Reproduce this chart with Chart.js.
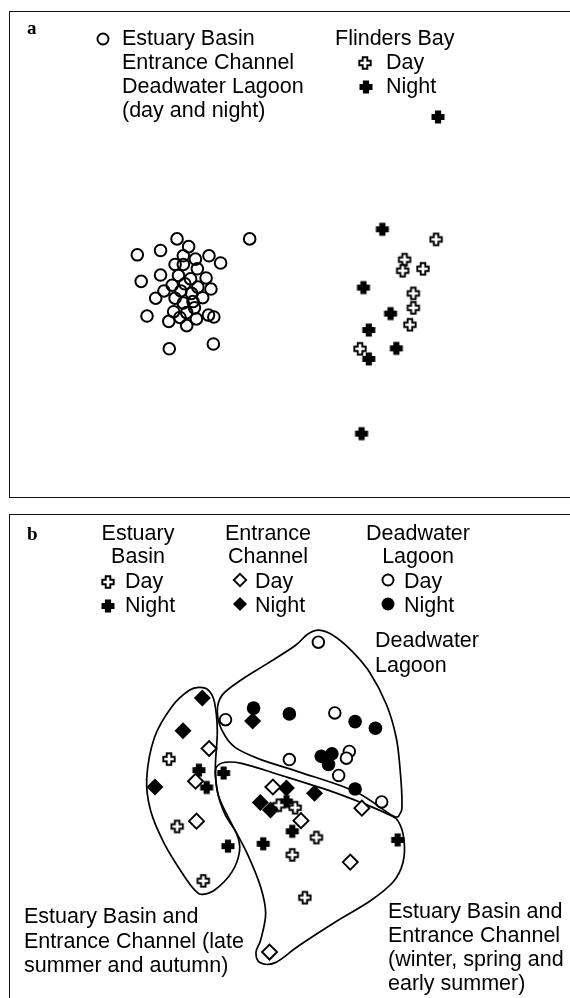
<!DOCTYPE html>
<html>
<head>
<meta charset="utf-8">
<script src="https://cdn.jsdelivr.net/npm/chart.js@4.4.1/dist/chart.umd.min.js"></script>
<style>
  body { margin: 0; background: #fff; width: 570px; height: 998px; overflow: hidden; position: relative; }
  .box { position: absolute; border: 1.5px solid #111; }
  #boxA { left: 9px; top: 11px; width: 620px; height: 485px; }
  #boxB { left: 9px; top: 514px; width: 620px; height: 600px; }
  canvas { position: absolute; left: 0; }
  #chartA { top: 0; }
  #chartB { top: 500px; }
</style>
</head>
<body>
<div class="box" id="boxA"></div>
<div class="box" id="boxB"></div>
<canvas id="chartA" width="570" height="500"></canvas>
<canvas id="chartB" width="570" height="498"></canvas>
<script>
// panel a: MDS ordination, arbitrary units
const estuaryAll = [
  [-0.73, 0.23], [-2.23, 0.23], [-1.99, 0.07], [-3.05, -0.10], [-2.57, -0.01],
  [-2.10, -0.12], [-1.85, -0.19], [-1.57, -0.12], [-1.33, -0.27], [-2.27, -0.30],
  [-2.10, -0.30], [-1.81, -0.39], [-2.97, -0.65], [-2.57, -0.52], [-2.20, -0.53],
  [-1.95, -0.60], [-1.63, -0.58], [-2.50, -0.85], [-2.33, -0.73], [-2.07, -0.70],
  [-1.80, -0.77], [-1.53, -0.81], [-2.67, -1.00], [-2.15, -0.85], [-2.27, -1.00],
  [-1.93, -0.90], [-1.70, -0.99], [-2.10, -1.10], [-1.90, -1.07], [-2.30, -1.28],
  [-2.03, -1.30], [-1.87, -1.20], [-2.85, -1.37], [-2.40, -1.48], [-2.17, -1.40],
  [-2.03, -1.57], [-1.83, -1.43], [-1.58, -1.35], [-1.47, -1.39], [-2.39, -2.05],
  [-1.48, -1.95]
];
const flindersNight = [
  [3.16, 2.76], [2.01, 0.43], [1.62, -0.78], [2.18, -1.32], [1.73, -1.66],
  [2.30, -2.04], [1.73, -2.26], [1.58, -3.81]
];
const flindersDay = [
  [3.12, 0.22], [2.47, -0.20], [2.43, -0.43], [2.85, -0.39], [2.65, -0.90],
  [2.65, -1.20], [2.58, -1.55], [1.55, -2.05]
];

// panel b
const lagoonDay = [
  [0.69, 2.22], [-1.23, 0.61], [1.03, 0.75], [0.09, -0.22], [1.33, -0.05],
  [1.27, -0.19], [1.11, -0.55], [2.00, -1.10]
];
const lagoonNight = [
  [-0.65, 0.85], [0.09, 0.73], [1.45, 0.57], [1.87, 0.43], [0.75, -0.15],
  [0.97, -0.10], [0.90, -0.32], [1.45, -0.83]
];
const channelDay = [
  [-1.57, 0.01], [-1.85, -0.67], [-0.25, -0.79], [0.33, -1.49], [1.59, -1.23],
  [-1.83, -1.50], [1.35, -2.35], [-0.32, -4.22]
];
const channelNight = [
  [-1.71, 1.06], [-0.67, 0.58], [-2.11, 0.38], [-2.69, -0.79], [0.03, -0.81],
  [0.61, -0.92], [-0.51, -1.11], [-0.30, -1.27]
];
const basinDay = [
  [-2.40, -0.21], [-0.13, -1.17], [0.21, -1.22], [-2.23, -1.61], [0.65, -1.84],
  [0.15, -2.20], [-1.69, -2.74], [0.41, -3.09]
];
const basinNight = [
  [-1.78, -0.44], [-1.27, -0.50], [-1.62, -0.80], [0.03, -1.09], [0.15, -1.71],
  [-1.18, -2.02], [-0.45, -1.97], [2.33, -1.89]
];

// group outlines
const hullLagoon = [
  [0.46, 2.38], [0.70, 2.47], [1.00, 2.36], [1.40, 2.02], [1.76, 1.58], [2.10, 0.92],
  [2.30, 0.24], [2.38, -0.42], [2.42, -1.12], [2.38, -1.34], [2.22, -1.38], [1.44, -0.88],
  [0.30, -0.48], [-0.50, -0.22], [-1.04, 0.04], [-1.30, 0.38], [-1.40, 0.78], [-1.30, 1.12],
  [-0.90, 1.44], [-0.36, 1.78], [0.20, 2.14]
];
const hullLateSummer = [
  [-1.76, 1.28], [-1.58, 1.22], [-1.46, 0.98], [-1.40, 0.38], [-1.44, -0.36], [-1.40, -0.88],
  [-1.24, -1.36], [-1.00, -1.76], [-0.94, -2.12], [-1.10, -2.56], [-1.44, -2.92], [-1.70, -3.02],
  [-1.86, -2.94], [-2.10, -2.62], [-2.50, -1.96], [-2.78, -1.28], [-2.86, -0.62], [-2.70, 0.24],
  [-2.34, 0.88], [-1.98, 1.22]
];
const hullWinter = [
  [-1.42, -0.38], [-1.26, -0.28], [-0.90, -0.30], [-0.04, -0.56], [0.96, -0.88], [1.64, -1.14],
  [2.14, -1.36], [2.34, -1.50], [2.46, -1.88], [2.44, -2.36], [2.24, -2.76], [1.76, -3.16],
  [1.10, -3.56], [0.30, -4.08], [-0.20, -4.44], [-0.52, -4.44], [-0.60, -4.22], [-0.50, -3.96],
  [-0.40, -3.42], [-0.50, -2.88], [-0.76, -2.22], [-1.10, -1.56], [-1.36, -1.02], [-1.44, -0.56]
];

const toXY = arr => arr.map(p => ({ x: p[0], y: p[1] }));

function crossImage(filled) {
  const c = document.createElement('canvas');
  c.width = 16; c.height = 16;
  const g = c.getContext('2d');
  const h = filled ? 6.5 : 5.7, t = filled ? 3.1 : 2.3, m = 8;
  g.beginPath();
  g.moveTo(m - t, m - h); g.lineTo(m + t, m - h); g.lineTo(m + t, m - t); g.lineTo(m + h, m - t);
  g.lineTo(m + h, m + t); g.lineTo(m + t, m + t); g.lineTo(m + t, m + h); g.lineTo(m - t, m + h);
  g.lineTo(m - t, m + t); g.lineTo(m - h, m + t); g.lineTo(m - h, m - t); g.lineTo(m - t, m - t);
  g.closePath();
  if (filled) { g.fillStyle = '#000'; g.fill(); }
  else { g.fillStyle = '#fff'; g.fill(); g.lineWidth = 1.9; g.strokeStyle = '#000'; g.stroke(); }
  return c;
}
const openCross = crossImage(false);
const solidCross = crossImage(true);

const FONT = '21.5px "Liberation Sans", Arial, sans-serif';
const LETTER = 'bold 19px "Liberation Serif", "Times New Roman", serif';

function drawSymbol(ctx, kind, x, y) {
  ctx.save();
  ctx.lineWidth = 1.9;
  ctx.strokeStyle = '#000';
  ctx.fillStyle = '#000';
  if (kind === 'openCross') ctx.drawImage(openCross, x - 8, y - 8);
  if (kind === 'solidCross') ctx.drawImage(solidCross, x - 8, y - 8);
  if (kind === 'openCircle' || kind === 'solidCircle') {
    ctx.beginPath();
    ctx.arc(x, y, kind === 'openCircle' ? 5.5 : 6.5, 0, Math.PI * 2);
    if (kind === 'openCircle') ctx.stroke(); else ctx.fill();
  }
  if (kind === 'openDiamond' || kind === 'solidDiamond') {
    const r = kind === 'openDiamond' ? 6.2 : 7;
    ctx.beginPath();
    ctx.moveTo(x, y - r); ctx.lineTo(x + r, y); ctx.lineTo(x, y + r); ctx.lineTo(x - r, y);
    ctx.closePath();
    if (kind === 'openDiamond') ctx.stroke(); else ctx.fill();
  }
  ctx.restore();
}

const annotations = {
  id: 'annotations',
  afterDraw(chart, args, opts) {
    const ctx = chart.ctx;
    ctx.save();
    ctx.fillStyle = '#000';
    ctx.textBaseline = 'alphabetic';
    (opts.texts || []).forEach(t => {
      ctx.font = t.font || FONT;
      ctx.textAlign = t.align || 'left';
      ctx.fillText(t.text, t.x, t.y);
    });
    (opts.symbols || []).forEach(s => drawSymbol(ctx, s.kind, s.x, s.y));
    ctx.restore();
  }
};

const hulls = {
  id: 'hulls',
  beforeDatasetsDraw(chart, args, opts) {
    const ctx = chart.ctx, xs = chart.scales.x, ys = chart.scales.y;
    ctx.save();
    ctx.strokeStyle = '#000';
    ctx.lineWidth = 1.7;
    (opts.shapes || []).forEach(shape => {
      const p = shape.map(q => [xs.getPixelForValue(q[0]), ys.getPixelForValue(q[1])]);
      const n = p.length;
      ctx.beginPath();
      ctx.moveTo(p[0][0], p[0][1]);
      for (let i = 0; i < n; i++) {
        const p0 = p[(i - 1 + n) % n], p1 = p[i], p2 = p[(i + 1) % n], p3 = p[(i + 2) % n];
        ctx.bezierCurveTo(
          p1[0] + (p2[0] - p0[0]) / 6, p1[1] + (p2[1] - p0[1]) / 6,
          p2[0] - (p3[0] - p1[0]) / 6, p2[1] - (p3[1] - p1[1]) / 6,
          p2[0], p2[1]);
      }
      ctx.closePath();
      ctx.stroke();
    });
    ctx.restore();
  }
};

function baseOptions(ymax, extra) {
  return {
    responsive: false,
    animation: false,
    events: [],
    layout: { padding: 0 },
    scales: {
      x: { type: 'linear', min: -5.7, max: 5.7, display: false },
      y: { type: 'linear', min: -ymax, max: ymax, display: false }
    },
    plugins: Object.assign({ legend: { display: false }, tooltip: { enabled: false } }, extra)
  };
}

new Chart(document.getElementById('chartA'), {
  type: 'scatter',
  data: {
    datasets: [
      { label: 'Estuary Basin, Entrance Channel, Deadwater Lagoon', data: toXY(estuaryAll),
        pointStyle: 'circle', pointRadius: 5.8, borderWidth: 2, borderColor: '#000',
        backgroundColor: 'rgba(0,0,0,0)' },
      { label: 'Flinders Bay Day', data: toXY(flindersDay), pointStyle: openCross, pointRadius: 8 },
      { label: 'Flinders Bay Night', data: toXY(flindersNight), pointStyle: solidCross, pointRadius: 8 }
    ]
  },
  options: baseOptions(5, {
    annotations: {
      texts: [
        { text: 'a', x: 27, y: 34, font: LETTER },
        { text: 'Estuary Basin', x: 122, y: 45 },
        { text: 'Entrance Channel', x: 122, y: 69 },
        { text: 'Deadwater Lagoon', x: 122, y: 93 },
        { text: '(day and night)', x: 122, y: 117 },
        { text: 'Flinders Bay', x: 335, y: 45 },
        { text: 'Day', x: 386, y: 69 },
        { text: 'Night', x: 386, y: 93 }
      ],
      symbols: [
        { kind: 'openCircle', x: 103, y: 39 },
        { kind: 'openCross', x: 365, y: 63 },
        { kind: 'solidCross', x: 366, y: 87 }
      ]
    }
  }),
  plugins: [annotations]
});

new Chart(document.getElementById('chartB'), {
  type: 'scatter',
  data: {
    datasets: [
      { label: 'Deadwater Lagoon Day', data: toXY(lagoonDay), pointStyle: 'circle', pointRadius: 5.8,
        borderWidth: 1.9, borderColor: '#000', backgroundColor: '#fff' },
      { label: 'Deadwater Lagoon Night', data: toXY(lagoonNight), pointStyle: 'circle', pointRadius: 6.8,
        borderWidth: 0, backgroundColor: '#000' },
      { label: 'Entrance Channel Day', data: toXY(channelDay), pointStyle: 'rectRot', pointRadius: 7.5,
        borderWidth: 1.9, borderColor: '#000', backgroundColor: '#fff' },
      { label: 'Entrance Channel Night', data: toXY(channelNight), pointStyle: 'rectRot', pointRadius: 8.5,
        borderWidth: 0, backgroundColor: '#000' },
      { label: 'Estuary Basin Day', data: toXY(basinDay), pointStyle: openCross, pointRadius: 8 },
      { label: 'Estuary Basin Night', data: toXY(basinNight), pointStyle: solidCross, pointRadius: 8 }
    ]
  },
  options: baseOptions(4.98, {
    hulls: { shapes: [hullLagoon, hullLateSummer, hullWinter] },
    annotations: {
      texts: [
        { text: 'b', x: 27, y: 40, font: LETTER },
        { text: 'Estuary', x: 138, y: 40, align: 'center' },
        { text: 'Basin', x: 138, y: 63, align: 'center' },
        { text: 'Day', x: 125, y: 88 },
        { text: 'Night', x: 125, y: 112 },
        { text: 'Entrance', x: 268, y: 40, align: 'center' },
        { text: 'Channel', x: 268, y: 63, align: 'center' },
        { text: 'Day', x: 255, y: 88 },
        { text: 'Night', x: 255, y: 112 },
        { text: 'Deadwater', x: 418, y: 40, align: 'center' },
        { text: 'Lagoon', x: 418, y: 63, align: 'center' },
        { text: 'Day', x: 404, y: 88 },
        { text: 'Night', x: 404, y: 112 },
        { text: 'Deadwater', x: 375, y: 147 },
        { text: 'Lagoon', x: 375, y: 172 },
        { text: 'Estuary Basin and', x: 24, y: 423 },
        { text: 'Entrance Channel (late', x: 24, y: 448 },
        { text: 'summer and autumn)', x: 24, y: 472 },
        { text: 'Estuary Basin and', x: 388, y: 418 },
        { text: 'Entrance Channel', x: 388, y: 442 },
        { text: '(winter, spring and', x: 388, y: 466 },
        { text: 'early summer)', x: 388, y: 490 }
      ],
      symbols: [
        { kind: 'openCross', x: 108, y: 82 },
        { kind: 'solidCross', x: 108, y: 106 },
        { kind: 'openDiamond', x: 240, y: 80 },
        { kind: 'solidDiamond', x: 240, y: 104 },
        { kind: 'openCircle', x: 388, y: 80 },
        { kind: 'solidCircle', x: 388, y: 104 }
      ]
    }
  }),
  plugins: [hulls, annotations]
});
</script>
</body>
</html>
